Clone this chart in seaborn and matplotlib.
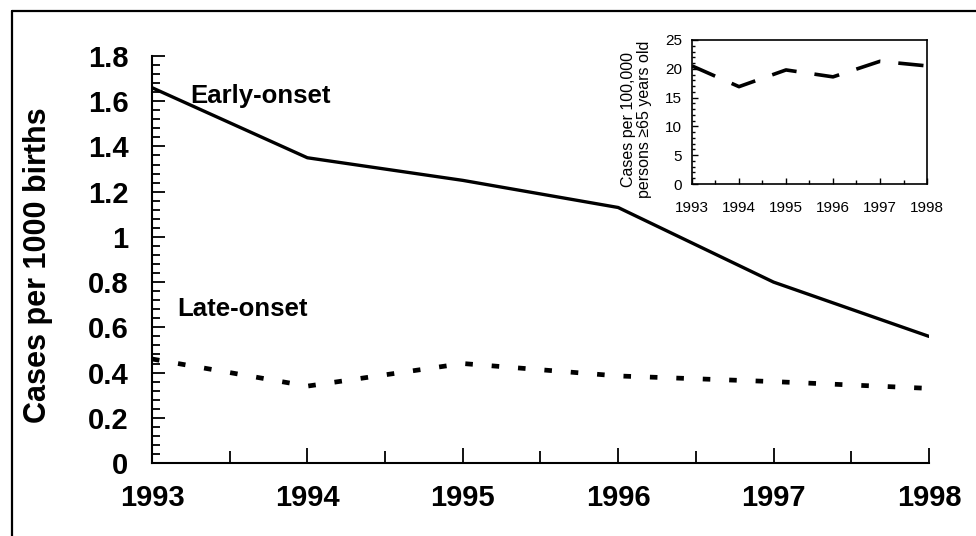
import numpy as np
import pandas as pd
import matplotlib
matplotlib.use("Agg")
import matplotlib.pyplot as plt
import seaborn as sns
from matplotlib.lines import Line2D
from matplotlib.ticker import MultipleLocator

years = [1993, 1994, 1995, 1996, 1997, 1998]
early_onset = [1.66, 1.35, 1.25, 1.13, 0.80, 0.56]
late_onset = [0.46, 0.34, 0.44, 0.385, 0.36, 0.33]
elderly = [20.5, 16.9, 19.8, 18.6, 21.3, 20.5]

df = pd.DataFrame({"Year": years, "Early": early_onset, "Late": late_onset, "Elderly": elderly})

sns.set_style("ticks")
plt.rcParams["font.family"] = ["Liberation Sans", "DejaVu Sans"]
plt.rcParams["text.color"] = "black"
plt.rcParams["axes.labelcolor"] = "black"
plt.rcParams["xtick.color"] = "black"
plt.rcParams["ytick.color"] = "black"

fig = plt.figure(figsize=(9.76, 5.36), dpi=100)

# frame lines (left and top only)
fig.add_artist(Line2D([0.0123, 0.0123], [0, 0.9795], transform=fig.transFigure, color="black", lw=1.6))
fig.add_artist(Line2D([0.0123, 1], [0.9795, 0.9795], transform=fig.transFigure, color="black", lw=1.6))

ax = fig.add_axes([0.1557, 0.1362, 0.7961, 0.7593])
sns.lineplot(data=df, x="Year", y="Early", ax=ax, color="black", lw=2.4)
sns.lineplot(data=df, x="Year", y="Late", ax=ax, color="black", lw=3.4,
             linestyle=(0, (1.6, 4.0)), dash_capstyle="butt")
ax.set_xlim(1993, 1998)
ax.set_ylim(0, 1.8)
ax.set_yticks(np.arange(0, 1.81, 0.2))
ax.set_yticklabels(["0", "0.2", "0.4", "0.6", "0.8", "1", "1.2", "1.4", "1.6", "1.8"])
ax.set_xticks(years)
ax.set_xticklabels([str(y) for y in years])
ax.yaxis.set_minor_locator(MultipleLocator(0.04))
ax.xaxis.set_minor_locator(MultipleLocator(0.5))
ax.tick_params(axis="both", which="both", direction="in", width=1.3, left=True, bottom=True)
ax.tick_params(axis="y", which="major", length=9, pad=17, labelsize=21)
ax.tick_params(axis="y", which="minor", length=6)
ax.tick_params(axis="x", which="major", length=11, pad=15, labelsize=21)
ax.tick_params(axis="x", which="minor", length=9)
for lab in ax.get_xticklabels() + ax.get_yticklabels():
    lab.set_fontweight("bold")
for s in ["top", "right"]:
    ax.spines[s].set_visible(False)
for s in ["left", "bottom"]:
    ax.spines[s].set_color("black")
    ax.spines[s].set_linewidth(1.5)
ax.set_xlabel("")
ax.set_ylabel("Cases per 1000 births", fontsize=22, fontweight="bold")
ax.yaxis.set_label_coords(-0.128, 0.4865)
ax.text(1993.245, 1.59, "Early-onset", fontsize=18.5, fontweight="bold", ha="left", va="baseline")
ax.text(1993.16, 0.65, "Late-onset", fontsize=18.5, fontweight="bold", ha="left", va="baseline")

# inset
ax2 = fig.add_axes([0.709, 0.6567, 0.2408, 0.2687])
sns.lineplot(data=df, x="Year", y="Elderly", ax=ax2, color="black", lw=2.6,
             linestyle=(0, (7, 5)), dash_capstyle="butt")
ax2.set_xlim(1993, 1998)
ax2.set_ylim(0, 25)
ax2.set_xticks(years)
ax2.set_xticklabels([str(y) for y in years])
ax2.set_yticks([0, 5, 10, 15, 20, 25])
ax2.xaxis.set_minor_locator(MultipleLocator(0.5))
ax2.yaxis.set_minor_locator(MultipleLocator(1))
ax2.tick_params(axis="both", which="both", direction="in", width=1.0,
                left=True, bottom=True, top=False, right=False, labelsize=11)
ax2.tick_params(axis="y", which="major", length=4, pad=7)
ax2.tick_params(axis="y", which="minor", length=2.5)
ax2.tick_params(axis="x", which="major", length=4, pad=12)
ax2.tick_params(axis="x", which="minor", length=3)
for s in ax2.spines.values():
    s.set_color("black")
    s.set_linewidth(1.2)
ax2.set_xlabel("")
ax2.set_ylabel("Cases per 100,000\npersons \u226565 years old", fontsize=11.5, linespacing=1.1)
ax2.yaxis.set_label_coords(-0.17, 0.45)

fig.savefig("out.png", dpi=100, facecolor="white")
